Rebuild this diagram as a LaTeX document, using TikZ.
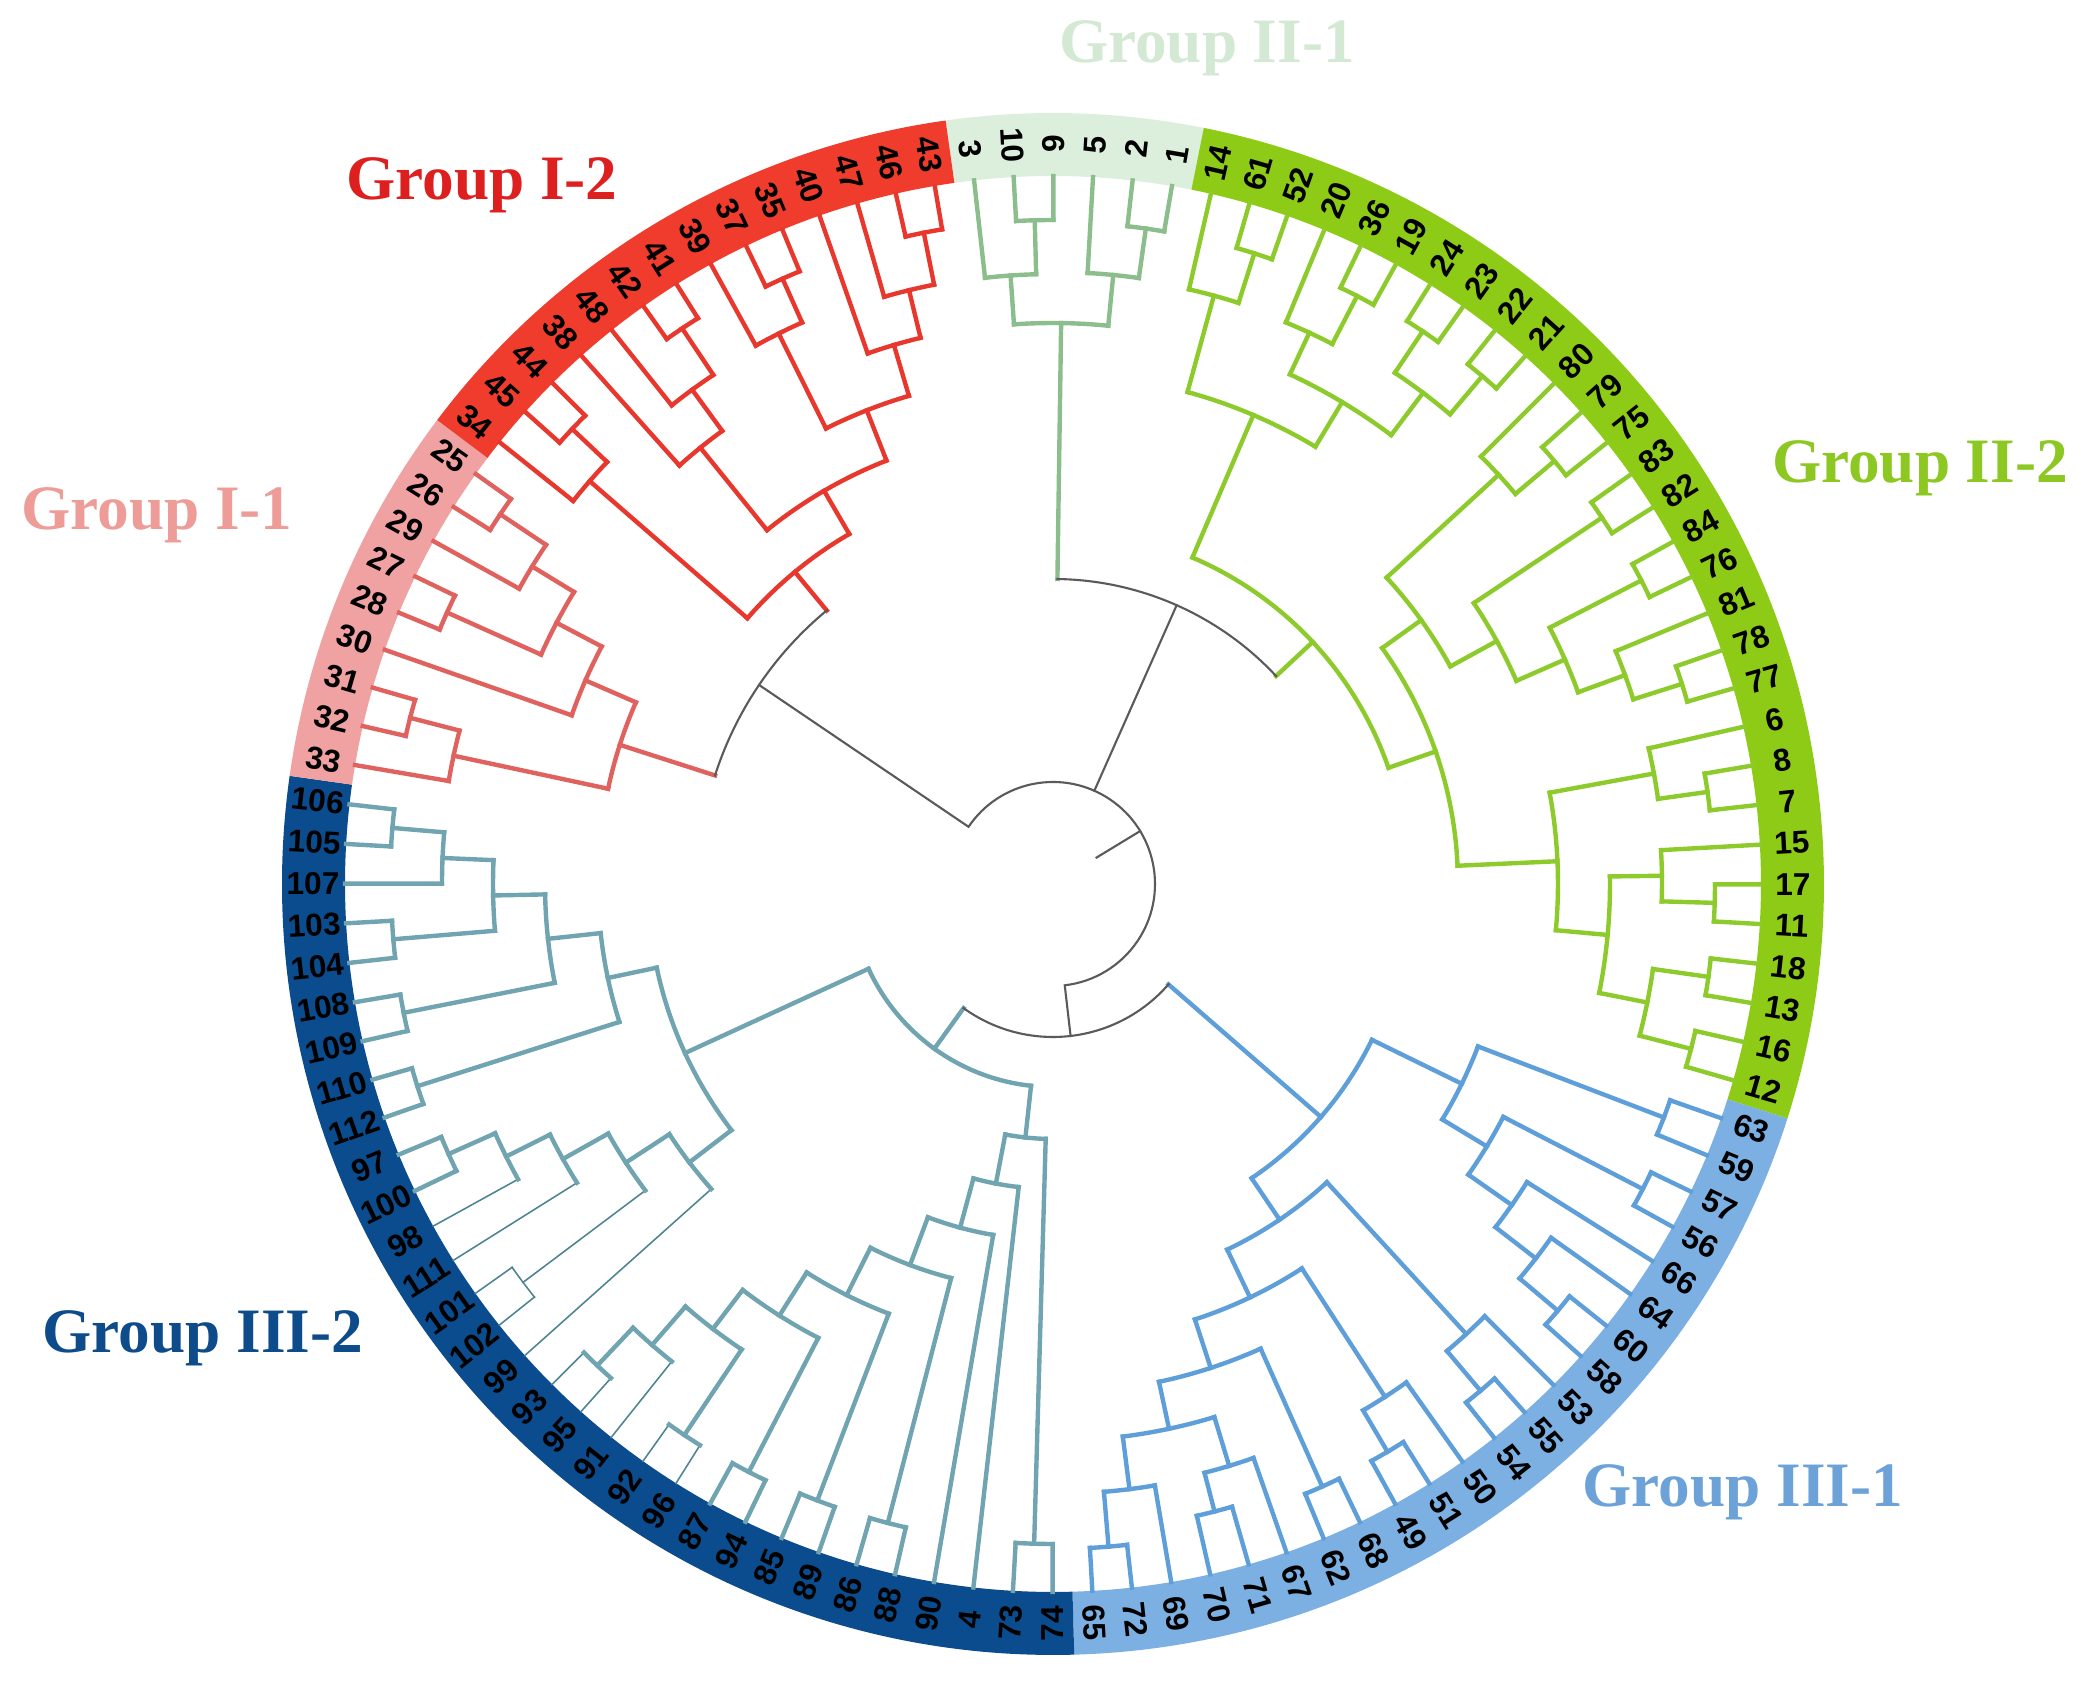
\documentclass[tikz,border=0pt]{standalone}
\usepackage{fontspec}
\newfontfamily\labfont{Liberation Sans}
\newfontfamily\grpfont{Liberation Serif}
\usetikzlibrary{calc}

\definecolor{bandA}{HTML}{F03C2D}
\definecolor{bandB}{HTML}{EFA2A1}
\definecolor{bandC}{HTML}{DCEEDC}
\definecolor{bandD}{HTML}{8DCB16}
\definecolor{bandE}{HTML}{7CB0E2}
\definecolor{bandF}{HTML}{0B4C8E}
\definecolor{brA}{HTML}{E8372C}
\definecolor{brB}{HTML}{E0625F}
\definecolor{brC}{HTML}{8CBD8C}
\definecolor{brD}{HTML}{8DCB2C}
\definecolor{brE}{HTML}{5F9FD9}
\definecolor{brF}{HTML}{6FA4B0}
\definecolor{thinF}{HTML}{4F8592}
\definecolor{txA}{HTML}{DE1F1F}
\definecolor{txB}{HTML}{ED9C98}
\definecolor{txC}{HTML}{D3E9D3}
\definecolor{txD}{HTML}{8CC722}
\definecolor{txE}{HTML}{6CA2D8}
\definecolor{txF}{HTML}{0D4B8B}
\definecolor{linkgrey}{HTML}{5A5A5A}

\tikzset{
  leaflab/.style={font=\labfont\bfseries\fontsize{9}{10}\selectfont, inner sep=0pt},
  grplab/.style={font=\grpfont\bfseries\fontsize{18}{21}\selectfont, inner sep=0pt},
  branch/.style={line width=1.25pt},
  thinbr/.style={line width=0.45pt, color=thinF},
  link/.style={color=linkgrey, line width=0.6pt},
}

% leaf k -> angle: 96.4-3.2143*k
\newcommand\ringpart[3]{%
  \pgfmathsetmacro\ta{96.4-3.2143*(#1)}\pgfmathsetmacro\tb{96.4-3.2143*(#2)}%
  \fill[#3] (\ta:7.08) arc[start angle=\ta, end angle=\tb, radius=7.08]
    -- (\tb:7.71) arc[start angle=\tb, end angle=\ta, radius=7.71] -- cycle;}
\newcommand\stem[2]{% child, parent radius
  \edef\kx{\csname kk#1\endcsname}\edef\ra{\csname rr#1\endcsname}%
  \pgfmathsetmacro\ta{96.4-3.2143*\kx}%
  \ifcsname tt#1\endcsname \draw[thinbr] (\ta:\ra) -- (\ta:#2);%
  \else \draw (\ta:\ra) -- (\ta:#2);\fi}
\newcommand\bow[4][]{% style, child a, child b, radius
  \edef\kx{\csname kk#2\endcsname}\edef\ky{\csname kk#3\endcsname}%
  \pgfmathsetmacro\ta{96.4-3.2143*\kx}\pgfmathsetmacro\tb{96.4-3.2143*\ky}%
  \draw[#1] (\ta:#4) arc[start angle=\ta, end angle=\tb, radius=#4];}
\newcommand\keep[4]{% name, child a, child b, radius
  \edef\kx{\csname kk#2\endcsname}\edef\ky{\csname kk#3\endcsname}%
  \pgfmathsetmacro\kn{(\kx+\ky)/2}%
  \expandafter\xdef\csname kk#1\endcsname{\kn}%
  \expandafter\xdef\csname rr#1\endcsname{#4}}
\newcommand\clade[4]{%
  \stem{#2}{#4}\stem{#3}{#4}%
  \ifcsname tt#1\endcsname\bow[thinbr]{#2}{#3}{#4}\else\bow{#2}{#3}{#4}\fi
  \keep{#1}{#2}{#3}{#4}}

\begin{document}
\begin{tikzpicture}[line cap=rect]
\useasboundingbox (-10.53,-8.11) rectangle (10.45,8.84);

% label ring
\ringpart{-0.5}{5.5}{bandC}
\ringpart{5.5}{35.5}{bandD}
\ringpart{35.5}{57.5}{bandE}
\ringpart{57.5}{88.5}{bandF}
\ringpart{88.5}{97.5}{bandB}
\ringpart{97.5}{111.5}{bandA}

% leaves
\foreach \lab [count=\i from 0] in {3,10,9,5,2,1,14,61,52,20,36,19,24,23,22,21,80,79,75,83,82,84,76,81,78,77,6,8,7,15,17,11,18,13,16,12,63,59,57,56,66,64,60,58,53,55,54,50,51,49,68,62,67,71,70,69,72,65,74,73,4,90,88,86,89,85,94,87,96,92,91,95,93,99,102,101,111,98,100,97,112,110,109,108,104,103,107,105,106,33,32,31,30,28,27,29,26,25,34,45,44,38,48,42,41,39,37,35,40,47,46,43} {
  \pgfmathsetmacro\tha{96.4-3.2143*\i}
  \pgfmathsetmacro\lrot{\tha>90 ? \tha-180 : (\tha<-90 ? \tha+180 : \tha)}
  \expandafter\xdef\csname kk\lab\endcsname{\i}
  \expandafter\xdef\csname rr\lab\endcsname{7.08}
  \node[leaflab, rotate=\lrot] (L\lab) at (\tha:7.40) {\lab};
}
\foreach \z in {98,111,99,93,95,91,92,96,101,102,s1} {\expandafter\xdef\csname tt\z\endcsname{}}

% Group II-1
\begin{scope}[branch, color=brC]
\clade{e1}{10}{9}{6.64}
\clade{e2}{3}{e1}{6.10}
\clade{e3}{2}{1}{6.62}
\clade{e4}{5}{e3}{6.12}
\clade{g21}{e2}{e4}{5.61}
\end{scope}

% Group II-2
\begin{scope}[branch, color=brD]
\clade{f1}{61}{52}{6.62}
\clade{f2}{14}{f1}{6.10}
\clade{f3}{36}{19}{6.62}
\clade{f4}{20}{f3}{6.08}
\clade{f5}{24}{23}{6.65}
\clade{f6}{22}{21}{6.65}
\clade{f7}{f5}{f6}{6.15}
\clade{f8}{f4}{f7}{5.62}
\clade{f9}{f2}{f8}{5.10}
\clade{h1}{79}{75}{6.56}
\clade{h2}{80}{h1}{6.05}
\clade{h3}{83}{82}{6.60}
\clade{h4}{84}{76}{6.62}
\clade{h5}{78}{77}{6.60}
\clade{h6}{81}{h5}{6.09}
\clade{h7}{h4}{h6}{5.59}
\clade{h8}{h3}{h7}{5.06}
\clade{h9}{h2}{h8}{4.53}
\clade{j1}{8}{7}{6.61}
\clade{j2}{6}{j1}{6.11}
\clade{j3}{17}{11}{6.62}
\clade{j4}{15}{j3}{6.09}
\clade{j5}{18}{13}{6.62}
\clade{j6}{16}{12}{6.59}
\clade{j7}{j5}{j6}{6.06}
\clade{j8}{j4}{j7}{5.57}
\clade{j9}{j2}{j8}{5.05}
\clade{h10}{h9}{j9}{4.05}
\clade{g22}{f9}{h10}{3.55}
\end{scope}

% Group III-1
\begin{scope}[branch, color=brE]
\clade{m1}{63}{59}{6.54}
\clade{m2}{57}{56}{6.64}
\clade{m3}{60}{58}{6.61}
\clade{m4}{64}{m3}{6.11}
\clade{m5}{66}{m4}{5.60}
\clade{m6}{m2}{m5}{5.07}
\clade{m7}{m1}{m6}{4.55}
\clade{n1}{55}{54}{6.63}
\clade{n2}{53}{n1}{6.11}
\clade{n3}{51}{49}{6.59}
\clade{n4}{50}{n3}{6.11}
\clade{n5}{68}{62}{6.60}
\clade{n6}{71}{70}{6.48}
\clade{n7}{67}{n6}{6.08}
\clade{n8}{72}{65}{6.65}
\clade{n9}{69}{n8}{6.10}
\clade{n10}{n7}{n9}{5.57}
\clade{n11}{n5}{n10}{5.09}
\clade{n12}{n4}{n11}{4.58}
\clade{n13}{n2}{n12}{4.05}
\clade{g31}{m7}{n13}{3.55}
\end{scope}

% Group III-2
\begin{scope}[branch, color=brF]
\clade{q1}{74}{73}{6.60}
\clade{q2}{88}{86}{6.60}
\clade{q3}{89}{85}{6.60}
\clade{q4}{94}{87}{6.62}
\clade{q5}{96}{92}{6.63}
\clade{q6}{95}{93}{6.63}
\clade{q7}{91}{q6}{6.11}
\clade{q8}{q5}{q7}{5.60}
\clade{q9}{q4}{q8}{5.11}
\clade{q10}{q3}{q9}{4.60}
\clade{q11}{q2}{q10}{4.07}
\clade{q12}{90}{q11}{3.56}
\clade{q13}{4}{q12}{3.05}
\clade{q14}{q1}{q13}{2.55}
\clade{s1}{102}{101}{6.63}
\clade{s2}{100}{97}{6.62}
\clade{s3}{98}{s2}{6.11}
\clade{s4}{111}{s3}{5.62}
\clade{s5}{s1}{s4}{5.10}
\clade{s6}{99}{s5}{4.58}
\clade{t1}{112}{110}{6.67}
\clade{t2}{109}{108}{6.62}
\clade{t3}{104}{103}{6.62}
\clade{t4}{105}{106}{6.63}
\clade{t5}{107}{t4}{6.11}
\clade{t6}{t3}{t5}{5.60}
\clade{t7}{t2}{t6}{5.08}
\clade{t8}{t1}{t7}{4.55}
\clade{t9}{s6}{t8}{4.05}
\clade{g32}{q14}{t9}{2.03}
\end{scope}

% Group I-1
\begin{scope}[branch, color=brB]
\clade{u1}{31}{32}{6.64}
\clade{u2}{33}{u1}{6.13}
\clade{u3}{28}{27}{6.64}
\clade{u4}{26}{25}{6.65}
\clade{u5}{29}{u4}{6.10}
\clade{u6}{u3}{u5}{5.61}
\clade{u7}{30}{u6}{5.10}
\clade{g11}{u2}{u7}{4.55}
\end{scope}

% Group I-2
\begin{scope}[branch, color=brA]
\clade{v1}{45}{44}{6.62}
\clade{v2}{34}{v1}{6.14}
\clade{v3}{42}{41}{6.68}
\clade{v4}{48}{v3}{6.12}
\clade{v5}{38}{v4}{5.61}
\clade{v6}{37}{35}{6.63}
\clade{v7}{39}{v6}{6.15}
\clade{v8}{46}{43}{6.64}
\clade{v9}{47}{v8}{6.11}
\clade{v10}{40}{v9}{5.62}
\clade{v11}{v7}{v10}{5.09}
\clade{v12}{v5}{v11}{4.55}
\clade{g12}{v2}{v12}{4.05}
\end{scope}

% joins between groups
\begin{scope}[branch, color=brC]\stem{g21}{3.05}\end{scope}
\begin{scope}[branch, color=brD]\stem{g22}{3.05}\end{scope}
\bow[link]{g21}{g22}{3.05}
\keep{gII}{g21}{g22}{3.05}
\begin{scope}[branch, color=brE]\stem{g31}{1.53}\end{scope}
\begin{scope}[branch, color=brF]\stem{g32}{1.53}\end{scope}
\bow[link]{g31}{g32}{1.53}
\keep{gIII}{g31}{g32}{1.53}
\begin{scope}[branch, color=brB]\stem{g11}{3.55}\end{scope}
\begin{scope}[branch, color=brA]\stem{g12}{3.55}\end{scope}
\bow[link]{g11}{g12}{3.55}
\keep{gI}{g11}{g12}{3.55}

% root
\begin{scope}[link]
\stem{gII}{1.02}
\edef\kx{\csname kkgI\endcsname}\edef\ky{\csname kkgIII\endcsname}
\pgfmathsetmacro\ta{96.4-3.2143*(\kx-112)}
\pgfmathsetmacro\tb{96.4-3.2143*\ky}
\pgfmathsetmacro\tc{(\ta+\tb)/2}
\draw (\ta:3.55) -- (\ta:1.02) arc[start angle=\ta, end angle=\tb, radius=1.02] -- (\tb:1.53);
\draw (\tc:0.51) -- (\tc:1.02);
\end{scope}

% group names
\node[grplab, text=txA] (gnA) at (-5.71,6.99) {Group I-2};
\node[grplab, text=txB] (gnB) at (-8.96,3.69) {Group I-1};
\node[grplab, text=txC] (gnC) at (1.54,8.36) {Group II-1};
\node[grplab, text=txD] (gnD) at (8.67,4.16) {Group II-2};
\node[grplab, text=txE] (gnE) at (6.90,-6.08) {Group III-1};
\node[grplab, text=txF] (gnF) at (-8.50,-4.54) {Group III-2};
\end{tikzpicture}
\end{document}
